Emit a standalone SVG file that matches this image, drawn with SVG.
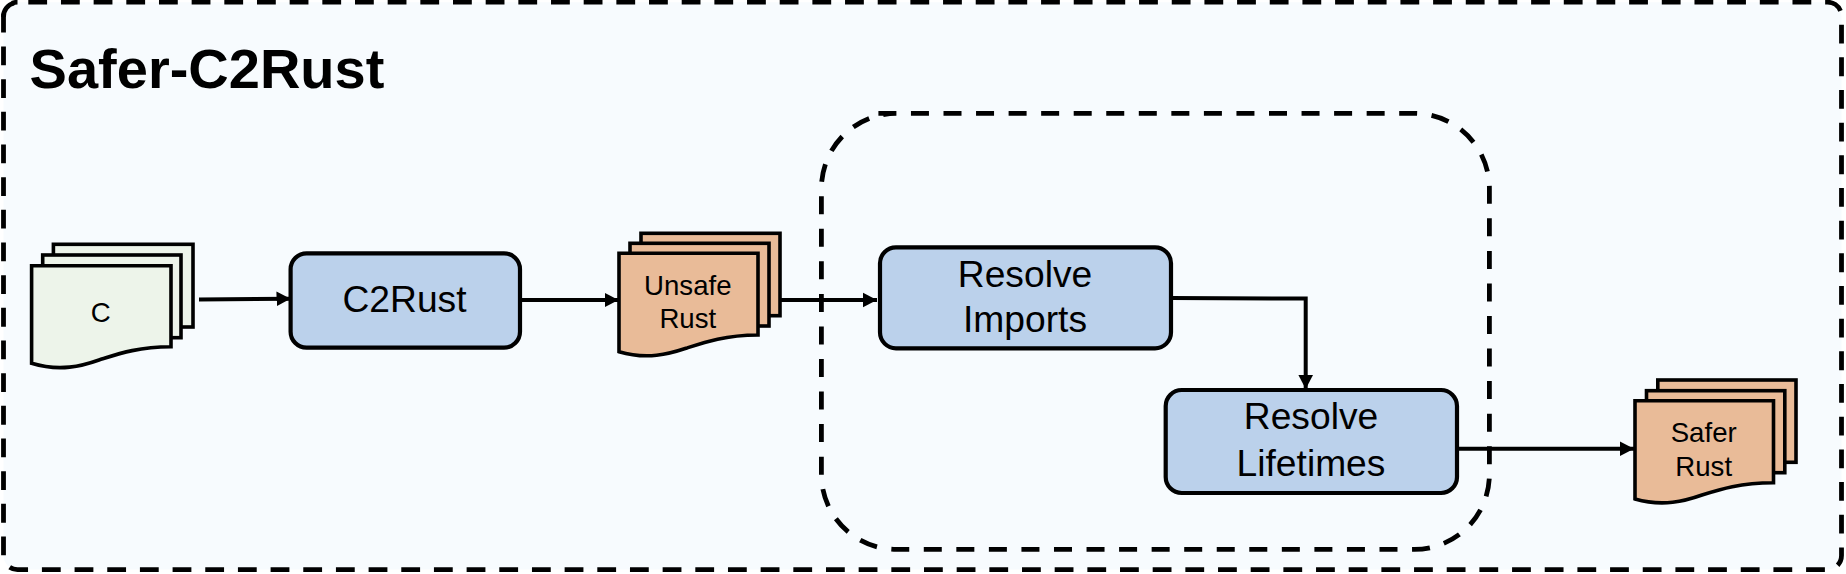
<svg xmlns="http://www.w3.org/2000/svg" width="1846" height="574" viewBox="0 0 1846 574">
<style>
.dash{fill:none;stroke:#000;stroke-width:4.8}
.outer{stroke-dasharray:18.8 13.87}
.inner{stroke-dasharray:18 14.55}
.box{fill:#BBD1EB;stroke:#000;stroke-width:4.2}
.green{fill:#EDF4EA;stroke:#000;stroke-width:3.6}
.orange{fill:#E9BB98;stroke:#000;stroke-width:3.6}
.edge{fill:none;stroke:#000;stroke-width:4;marker-end:url(#arrow)}
text{font-family:"Liberation Sans",Arial,Helvetica,sans-serif;fill:#000;text-anchor:middle}
.big{font-size:37.2px}
.small{font-size:27.6px}
.title{font-size:56px;font-weight:700}
</style>
<defs>
<marker id="arrow" markerUnits="userSpaceOnUse" markerWidth="15" markerHeight="16" refX="14" refY="8" orient="auto">
<path d="M0,0.7 L14,8 L0,15.3 Z" fill="#000"/>
</marker>
</defs>
<rect width="1846" height="574" fill="#fff"/>
<g id="outer-frame">
<rect x="3.5" y="2.2" width="1838" height="567.4" rx="14" ry="14" fill="#F7FBFE"/>
<path class="dash outer" d="M28.3,2.2 H1827.5 A14,14 0 0 1 1841.5,16.2 V555.6 A14,14 0 0 1 1827.5,569.6 H17.5 A14,14 0 0 1 3.5,555.6 V16.2 A14,14 0 0 1 17.5,2.2"/>
<path class="dash" d="M3.5,17 A14,14 0 0 1 14,3"/>
<text class="title" x="207" y="88">Safer-C2Rust</text>
</g>
<g id="inner-frame">
<path class="dash inner" d="M878.4,113.4 H1414.4 A75,75 0 0 1 1489.4,188.4 V474.4 A75,75 0 0 1 1414.4,549.4 H896.4 A75,75 0 0 1 821.4,474.4 V188.4 A75,75 0 0 1 896.4,113.4"/>
</g>
<g id="connectors">
<path class="edge" d="M199,299.4 L290.5,298.8"/>
<path class="edge" d="M520,300 L618.5,300"/>
<path class="edge" d="M780,300 L877,300"/>
<path class="edge" d="M1171,298 L1305.7,298.6 L1305.7,389"/>
<path class="edge" d="M1457,448.7 L1634,448.7"/>
</g>
<g id="doc-c">
<rect class="green" x="53.4" y="244.3" width="139.6" height="82.7"/>
<rect class="green" x="42.7" y="255" width="138.3" height="82.7"/>
<path class="green" d="M31.6,265.7 H171 V346.7 C137,347 118,354 99,360 C82,366 60,372 31.6,363.3 Z"/>
<text class="small" x="100.8" y="322.3">C</text>
</g>
<g id="node-c2rust">
<rect class="box" x="290.6" y="253.3" width="229.4" height="94.4" rx="16" ry="16"/>
<text class="big" x="404.5" y="311.7">C2Rust</text>
</g>
<g id="doc-unsafe">
<rect class="orange" x="641" y="233.3" width="139" height="82.4"/>
<rect class="orange" x="630" y="243.3" width="139" height="82.7"/>
<path class="orange" d="M619,253.3 H758 V335 C724,335.3 705,342 686,348.3 C669,354 647,360 619,351.7 Z"/>
<text class="small" x="687.8" y="295">Unsafe</text>
<text class="small" x="687.8" y="328.3">Rust</text>
</g>
<g id="node-resolve-imports">
<rect class="box" x="880" y="247.3" width="291" height="101" rx="16" ry="16"/>
<text class="big" x="1025" y="286.7">Resolve</text>
<text class="big" x="1025" y="332.3">Imports</text>
</g>
<g id="node-resolve-lifetimes">
<rect class="box" x="1165.7" y="390" width="291.3" height="103" rx="16" ry="16"/>
<text class="big" x="1311" y="429.3">Resolve</text>
<text class="big" x="1311" y="475.7">Lifetimes</text>
</g>
<g id="doc-safer">
<rect class="orange" x="1657.8" y="380" width="138.2" height="82.3"/>
<rect class="orange" x="1646.5" y="390.7" width="138.3" height="82"/>
<path class="orange" d="M1635,400.7 H1773.5 V482.7 C1740,483 1721,489 1702,495 C1685,501 1663,507 1635,499 Z"/>
<text class="small" x="1703.7" y="441.7">Safer</text>
<text class="small" x="1703.7" y="475.7">Rust</text>
</g>
</svg>
